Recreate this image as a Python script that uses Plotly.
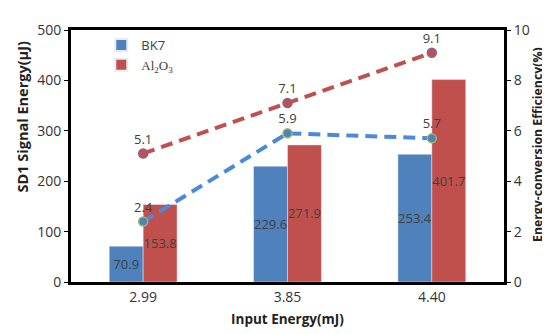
import plotly.graph_objects as go

categories = ["2.99", "3.85", "4.40"]
bk7_energy = [70.9, 229.6, 253.4]
al2o3_energy = [153.8, 271.9, 401.7]
bk7_eff = [2.4, 5.9, 5.7]
al2o3_eff = [5.1, 7.1, 9.1]
left_ticks = [0, 100, 200, 300, 400, 500]
right_ticks = [0, 2, 4, 6, 8, 10]

FONT = "Open Sans"
TXT = "#404040"
TICK = "#333333"

fig = go.Figure()
fig.add_trace(go.Bar(
    x=categories, y=bk7_energy, name="BK7", marker_color="#4F81BD",
    text=[f"{v:.1f}" for v in bk7_energy], textposition="inside",
    insidetextanchor="middle", constraintext="none", textangle=0,
    textfont=dict(color=TXT, size=13, family=FONT), yaxis="y",
))
fig.add_trace(go.Bar(
    x=categories, y=al2o3_energy,
    name='<span style="font-family:Liberation Serif">Al<sub>2</sub>O<sub>3</sub></span>',
    marker_color="#C0504D",
    text=[f"{v:.1f}" for v in al2o3_energy], textposition="inside",
    insidetextanchor="middle", constraintext="none", textangle=0,
    textfont=dict(color=TXT, size=13, family=FONT), yaxis="y",
))
fig.add_trace(go.Scatter(
    x=categories, y=al2o3_eff, mode="lines+markers+text", yaxis="y2",
    line=dict(color="#C0504D", width=4, dash="12px,7px"),
    marker=dict(size=9, color="#C0504D", line=dict(color="#8064A2", width=1.5)),
    text=[f"{v:.1f}" for v in al2o3_eff], textposition="top center",
    textfont=dict(color=TXT, size=13, family=FONT), showlegend=False, cliponaxis=False,
))
fig.add_trace(go.Scatter(
    x=categories, y=bk7_eff, mode="lines+markers+text", yaxis="y2",
    line=dict(color="#4A8AD8", width=4, dash="12px,7px"),
    marker=dict(size=9, color="#4F81BD", line=dict(color="#9BBB59", width=1.5)),
    text=[f"{v:.1f}" for v in bk7_eff], textposition="top center",
    textfont=dict(color=TXT, size=13, family=FONT), showlegend=False, cliponaxis=False,
))

fig.update_layout(
    width=550, height=334,
    margin=dict(l=63, r=54, t=13, b=60),
    paper_bgcolor="white", plot_bgcolor="white",
    barmode="group", bargap=0.53, bargroupgap=0,
    font=dict(family=FONT, color="#222222", size=13),
    showlegend=True,
    legend=dict(x=0.07, y=1.0, xanchor="left", yanchor="top",
                bgcolor="rgba(0,0,0,0)", font=dict(size=13, family=FONT, color=TXT),
                tracegroupgap=0, itemsizing="constant"),
    xaxis=dict(type="category", showline=True, linecolor="black", linewidth=3, mirror=True,
               ticks="", showgrid=False, tickfont=dict(size=14, color=TICK),
               title=dict(text="<b>Input Energy(mJ)</b>", font=dict(size=13.5), standoff=10)),
    yaxis=dict(range=[0, 500], tickvals=left_ticks, showline=True, linecolor="black", linewidth=3,
               ticks="outside", ticklen=4, tickcolor="black", showgrid=False, zeroline=False,
               tickfont=dict(size=14, color=TICK)),
    yaxis2=dict(range=[0, 10], tickvals=right_ticks, overlaying="y", side="right",
                showline=True, linecolor="black", linewidth=3, ticks="outside", ticklen=4,
                tickcolor="black", showgrid=False, zeroline=False,
                tickfont=dict(size=14, color=TICK)),
    annotations=[
        dict(text="<b>SD1 Signal Energy(μJ)</b>", textangle=-90, showarrow=False,
             xref="paper", yref="paper", x=-0.112, y=0.655, xanchor="center", yanchor="middle",
             font=dict(size=14.5, color="#222222")),
        dict(text="<b>Energy-conversion Efficiency(%)</b>", textangle=-90, showarrow=False,
             xref="paper", yref="paper", x=1.077, y=0.545, xanchor="center", yanchor="middle",
             font=dict(size=12.3, color="#222222")),
    ],
)

fig.write_html("out.html")
